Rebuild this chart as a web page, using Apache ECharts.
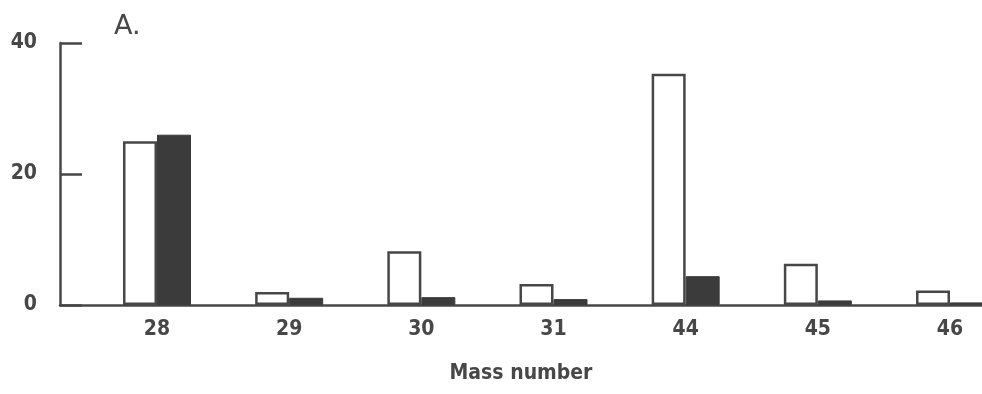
<!DOCTYPE html>
<html><head><meta charset="utf-8">
<script src="https://cdn.jsdelivr.net/npm/echarts@6/dist/echarts.min.js"></script>
<style>html,body{margin:0;padding:0;background:#fff}#c{width:982px;height:394px}</style>
</head><body><div id="c"></div>
<script>
const categories = ['28','29','30','31','44','45','46'];
const openValues = [25, 2, 8.2, 3.2, 35.3, 6.3, 2.2];
const filledValues = [26, 1.1, 1.2, 0.9, 4.4, 0.7, 0.4];
const yTicks = [0, 20, 40];

const ink = '#474747';
const font = 'DejaVu Sans Condensed';
const chart = echarts.init(document.getElementById('c'));
chart.setOption({
  animation: false,
  backgroundColor: '#fff',
  title: { text: 'A.', left: 109, top: 8, textStyle: { fontFamily: 'DejaVu Sans', fontSize: 27, fontWeight: 'normal', color: ink } },
  grid: [
    { left: 60, right: 0, top: 43, bottom: 89 },
    { left: 157, right: 32, top: 43, bottom: 89 }
  ],
  xAxis: [
    { gridIndex: 0, type: 'value', min: 0, max: 1, axisLine: { show: true, lineStyle: { color: ink, width: 2.5 } },
      axisTick: { show: false }, axisLabel: { show: false }, splitLine: { show: false },
      name: 'Mass number', nameLocation: 'middle', nameGap: 58,
      nameTextStyle: { fontFamily: font, fontSize: 21, fontWeight: 'bold', color: ink } },
    { gridIndex: 1, type: 'category', data: categories, boundaryGap: false, axisLine: { show: false }, axisTick: { show: false },
      axisLabel: { margin: 14, fontFamily: font, fontSize: 21, fontWeight: 'bold', color: ink } }
  ],
  yAxis: [
    { gridIndex: 0, type: 'value', min: 0, max: 40, interval: 20,
      axisLine: { show: true, lineStyle: { color: ink, width: 2.5 } },
      axisTick: { show: true, inside: true, length: 22, lineStyle: { color: ink, width: 2.5 } },
      axisLabel: { margin: 23, fontFamily: font, fontSize: 21, fontWeight: 'bold', color: ink,
        formatter: v => yTicks.includes(v) ? String(v) : '' },
      splitLine: { show: false } },
    { gridIndex: 1, type: 'value', min: 0, max: 40, show: false, splitLine: { show: false } }
  ],
  series: [
    { type: 'bar', xAxisIndex: 1, yAxisIndex: 1, data: openValues, barWidth: 34, barGap: '0%', clip: false,
      itemStyle: { color: '#fff', borderColor: ink, borderWidth: 2.5 } },
    { type: 'bar', xAxisIndex: 1, yAxisIndex: 1, data: filledValues, barWidth: 34, barGap: '0%', clip: false,
      itemStyle: { color: '#3b3b3b', borderColor: '#3b3b3b', borderWidth: 1 } }
  ]
});
</script></body></html>
